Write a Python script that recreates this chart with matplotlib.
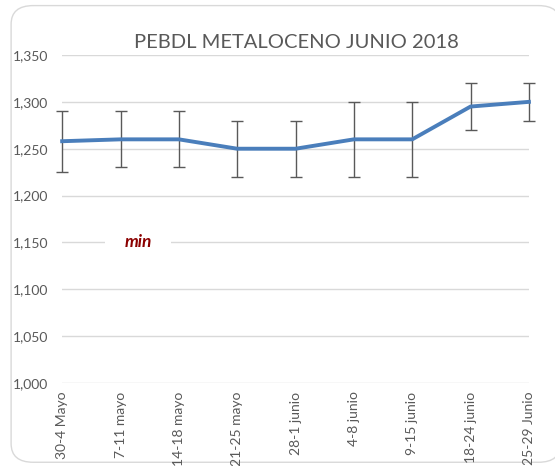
import numpy as np
import matplotlib.pyplot as plt
from matplotlib.patches import FancyBboxPatch

# ---------- data ----------
weeks = ["30-4 Mayo", "7-11 mayo", "14-18 mayo", "21-25 mayo", "28-1 junio",
         "4-8 junio", "9-15 junio", "18-24 junio", "25-29 Junio"]
price = [1258, 1260, 1260, 1250, 1250, 1260, 1260, 1295, 1300]
price_max = [1290, 1290, 1290, 1280, 1280, 1300, 1300, 1320, 1320]
price_min = [1225, 1230, 1230, 1220, 1220, 1220, 1220, 1270, 1280]
y_ticks = [1000, 1050, 1100, 1150, 1200, 1250, 1300, 1350]

plt.rcParams['font.family'] = ['Lato', 'DejaVu Sans']

fig = plt.figure(figsize=(5.55, 4.66), dpi=100)

# rounded chart frame, kept behind the axes
frame = FancyBboxPatch((0.02, 0.008), 0.99, 0.98, boxstyle="round,pad=0,rounding_size=0.04",
                       transform=fig.transFigure, facecolor="white",
                       edgecolor="#d9d9d9", linewidth=1.0, zorder=-10)
fig.patches.append(frame)

ax = fig.add_axes([0.112, 0.178, 0.841, 0.704])
ax.set_facecolor("none")
ax.set_zorder(1)

x = np.arange(len(weeks))
price = np.array(price)
lower = price - np.array(price_min)
upper = np.array(price_max) - price

eb = ax.errorbar(x, price, yerr=[lower, upper], fmt="none", ecolor="#595959",
                 elinewidth=1.0, capsize=4, capthick=1.0, zorder=3)
for art in eb.lines[1] + eb.lines[2]:
    art.set_clip_on(False)
ax.plot(x, price, color="#4a7ebb", linewidth=2.8, zorder=4, clip_on=False)

ax.set_xlim(0, len(weeks) - 1)
ax.set_ylim(1000, 1350)
ax.set_yticks(y_ticks)
ax.set_yticklabels([f"{v:,}" for v in y_ticks])
ax.set_xticks(x)
ax.set_xticklabels(weeks, rotation=90, va="top", ha="center")
ax.tick_params(axis="both", length=0, labelsize=10, colors="#595959")
ax.tick_params(axis="x", pad=6)
ax.tick_params(axis="y", pad=10)
ax.grid(axis="y", color="#d9d9d9", linewidth=1.0)
ax.set_axisbelow(True)
for s in ax.spines.values():
    s.set_visible(False)

ax.text(1.3, 1150, "min", color="#8b0000", fontsize=12.5, fontweight="bold",
        fontstyle="italic", ha="center", va="center",
        bbox=dict(facecolor="white", edgecolor="none", pad=14), zorder=2)

fig.text(0.535, 0.908, "PEBDL METALOCENO JUNIO 2018", ha="center", va="center",
         fontsize=14.5, color="#595959")

fig.savefig("out.png", dpi=100)
